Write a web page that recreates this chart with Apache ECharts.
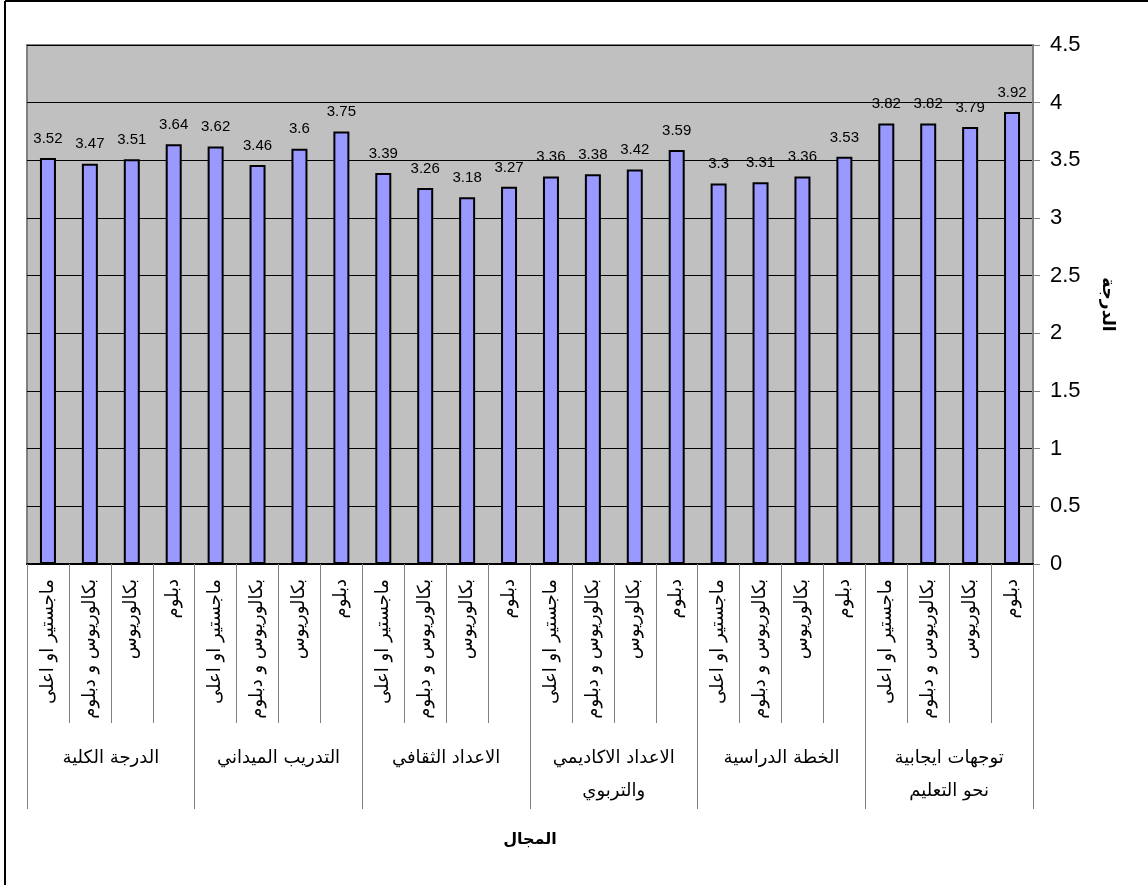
<!DOCTYPE html>
<html>
<head>
<meta charset="utf-8">
<style>
html,body{margin:0;padding:0;background:#fff;}
#chart{width:1148px;height:885px;}
</style>
<script src="https://cdn.jsdelivr.net/npm/echarts@6/dist/echarts.min.js"></script>
</head>
<body>
<div id="chart"></div>
<script>
const levels = ['ماجستير او اعلى', 'بكالوريوس و دبلوم', 'بكالوريوس', 'دبلوم'];
const groups = ['الدرجة الكلية', 'التدريب الميداني', 'الاعداد الثقافي', 'الاعداد الاكاديمي\nوالتربوي', 'الخطة الدراسية', 'توجهات ايجابية\nنحو التعليم'];
const groupValues = [
  [3.52, 3.47, 3.51, 3.64],
  [3.62, 3.46, 3.6, 3.75],
  [3.39, 3.26, 3.18, 3.27],
  [3.36, 3.38, 3.42, 3.59],
  [3.3, 3.31, 3.36, 3.53],
  [3.82, 3.82, 3.79, 3.92]
];
const yTicks = {min: 0, max: 4.5, interval: 0.5};
const yTitle = 'الدرجة';
const xTitle = 'المجال';

const categories = [];
const values = [];
groups.forEach((g, i) => {
  levels.forEach((l, j) => {
    categories.push(l);
    values.push(groupValues[i][j]);
  });
});

const arabicFont = '"DejaVu Sans", "Liberation Sans", Arial, sans-serif';
const numFont = '"Liberation Sans", Arial, sans-serif';

const chart = echarts.init(document.getElementById('chart'));
chart.setOption({
  animation: false,
  backgroundColor: '#ffffff',
  grid: {
    left: 27, right: 115, top: 45, bottom: 321,
    show: true, backgroundColor: '#c0c0c0', borderColor: '#808080', borderWidth: 2,
    containLabel: false
  },
  xAxis: [
    {
      type: 'category',
      data: categories,
      position: 'bottom',
      boundaryGap: true,
      axisLine: {show: true, lineStyle: {color: '#000', width: 2}},
      axisTick: {show: true, length: 159, alignWithLabel: false, lineStyle: {color: '#808080', width: 1}},
      axisLabel: {
        interval: 0, rotate: 90, margin: 15,
        fontSize: 18, color: '#000', fontFamily: arabicFont
      },
      splitLine: {show: false}
    },
    {
      type: 'category',
      data: groups,
      position: 'bottom',
      boundaryGap: true,
      axisLine: {show: false},
      axisTick: {show: true, length: 245, alignWithLabel: false, lineStyle: {color: '#808080', width: 1}},
      axisLabel: {
        interval: 0, margin: 178, fontSize: 18, lineHeight: 33,
        color: '#000', fontFamily: arabicFont
      },
      name: xTitle,
      nameLocation: 'middle',
      nameGap: 268,
      nameTextStyle: {fontSize: 16, fontWeight: 'bold', color: '#000', fontFamily: arabicFont},
      splitLine: {show: false}
    }
  ],
  yAxis: {
    type: 'value',
    position: 'right',
    min: yTicks.min, max: yTicks.max, interval: yTicks.interval,
    axisLine: {show: true, lineStyle: {color: '#808080', width: 2}},
    axisTick: {show: true, inside: false, length: 7, lineStyle: {color: '#808080', width: 1}},
    axisLabel: {margin: 17, fontSize: 22, color: '#000', fontFamily: numFont},
    splitLine: {show: true, lineStyle: {color: '#000', width: 1}},
    name: yTitle,
    nameLocation: 'middle',
    nameRotate: -90,
    nameGap: 66,
    nameTextStyle: {fontSize: 17, fontWeight: 'bold', color: '#000', fontFamily: arabicFont}
  },
  series: [{
    type: 'bar',
    xAxisIndex: 0,
    data: values,
    barWidth: 16,
    itemStyle: {color: '#9999ff', borderColor: '#000', borderWidth: 2},
    label: {
      show: true, position: 'top', distance: 12,
      fontSize: 15, color: '#000', fontFamily: numFont
    }
  }],
  graphic: [
    {type: 'line', shape: {x1: 5, y1: 1, x2: 1148, y2: 1}, style: {stroke: '#000', lineWidth: 2}},
    {type: 'line', shape: {x1: 5, y1: 1, x2: 5, y2: 885}, style: {stroke: '#000', lineWidth: 2}}
  ]
});
</script>
</body>
</html>
